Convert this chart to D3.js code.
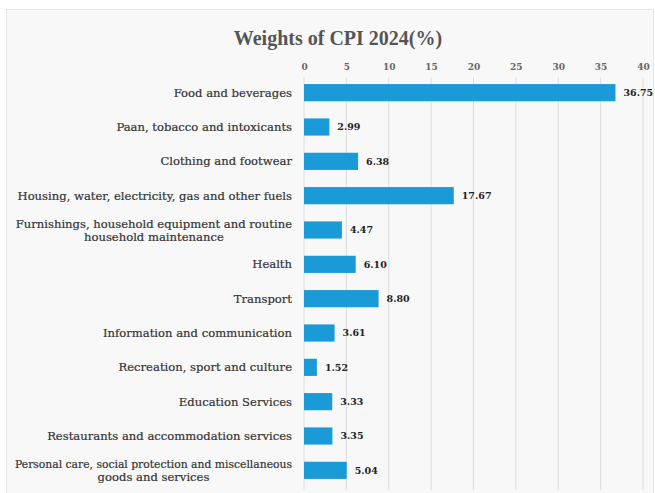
<!DOCTYPE html>
<html>
<head>
<meta charset="utf-8">
<script src="https://cdn.jsdelivr.net/npm/d3@7"></script>
<style>
  body { margin: 0; background: #fff; }
</style>
</head>
<body>
<script>
// categories and weights (%)
var categories = [
  ["Food and beverages"],
  ["Paan, tobacco and intoxicants"],
  ["Clothing and footwear"],
  ["Housing, water, electricity, gas and other fuels"],
  ["Furnishings, household equipment and routine", "household maintenance"],
  ["Health"],
  ["Transport"],
  ["Information and communication"],
  ["Recreation, sport and culture"],
  ["Education Services"],
  ["Restaurants and accommodation services"],
  ["Personal care, social protection and miscellaneous", "goods and services"]
];
var weights = [36.75, 2.99, 6.38, 17.67, 4.47, 6.10, 8.80, 3.61, 1.52, 3.33, 3.35, 5.04];
var xTicks = [0, 5, 10, 15, 20, 25, 30, 35, 40];

var WIDTH = 655, HEIGHT = 493;
var SERIF = "'DejaVu Serif', 'Liberation Serif', serif";
var MAXLABEL = 277; // widest label line allowed

var svg = d3.select("body").append("svg")
  .attr("width", WIDTH)
  .attr("height", HEIGHT);

// chart area panel
svg.append("rect")
  .attr("x", 6.5).attr("y", 9.5)
  .attr("width", WIDTH - 8).attr("height", HEIGHT - 8)
  .attr("fill", "#f8f8f8")
  .attr("stroke", "#e6e6e6");

var x = d3.scaleLinear().domain([0, 40]).range([304, 643]);
var y = d3.scaleBand()
  .domain(d3.range(categories.length))
  .range([75.5, 487.5])
  .paddingInner(0.5)
  .paddingOuter(0.25);

// title
svg.append("text")
  .attr("x", 338).attr("y", 45)
  .attr("text-anchor", "middle")
  .style("font-family", "'Liberation Serif', serif")
  .style("font-weight", "bold")
  .style("font-size", "20px")
  .attr("fill", "#555")
  .text("Weights of CPI 2024(%)");

// gridlines
svg.append("g").selectAll("line")
  .data(xTicks)
  .enter().append("line")
  .attr("x1", d => x(d)).attr("x2", d => x(d))
  .attr("y1", 77).attr("y2", 490)
  .attr("stroke", "#dcdcdc")
  .attr("stroke-width", 1);

// top axis labels
var xAxis = svg.append("g")
  .attr("transform", "translate(0,70)")
  .call(d3.axisTop(x).tickValues(xTicks).tickSize(0).tickPadding(0));
xAxis.select(".domain").remove();
xAxis.selectAll("text")
  .style("font-family", SERIF)
  .style("font-size", "9px")
  .style("font-weight", "bold")
  .attr("fill", "#666");

// bars
svg.append("g").selectAll("rect")
  .data(weights)
  .enter().append("rect")
  .attr("x", x(0))
  .attr("y", (d, i) => y(i))
  .attr("width", d => x(d) - x(0))
  .attr("height", y.bandwidth())
  .attr("fill", "#1a9ad6");

// value labels
svg.append("g").selectAll("text")
  .data(weights)
  .enter().append("text")
  .attr("x", d => x(d) + 8)
  .attr("y", (d, i) => y(i) + y.bandwidth() / 2)
  .attr("dy", "0.35em")
  .style("font-family", SERIF)
  .style("font-size", "9.5px")
  .style("font-weight", "bold")
  .attr("fill", "#222")
  .text(d => d.toFixed(2));

// category labels (right aligned, extra lines centred under the first)
var labels = svg.append("g").selectAll("text")
  .data(categories)
  .enter().append("text")
  .style("font-family", SERIF)
  .style("font-size", "11.6px")
  .attr("fill", "#333")
  .attr("stroke", "#333")
  .attr("stroke-width", 0.2);

labels.each(function(lines, i) {
  var t = d3.select(this);
  var cy = y(i) + y.bandwidth() / 2;
  var lh = 13;
  var top = cy - (lines.length - 1) * lh / 2;
  var first = t.append("tspan").text(lines[0]);
  var w = first.node().getComputedTextLength();
  if (w > MAXLABEL) {
    first.attr("textLength", MAXLABEL).attr("lengthAdjust", "spacingAndGlyphs");
    w = MAXLABEL;
  }
  var right = 292;
  var centre = right - w / 2;
  t.attr("text-anchor", "middle");
  first.attr("x", centre).attr("y", top).attr("dy", "0.35em");
  for (var k = 1; k < lines.length; k++) {
    t.append("tspan").text(lines[k])
      .attr("x", centre).attr("y", top + k * lh).attr("dy", "0.35em");
  }
});
</script>
</body>
</html>
